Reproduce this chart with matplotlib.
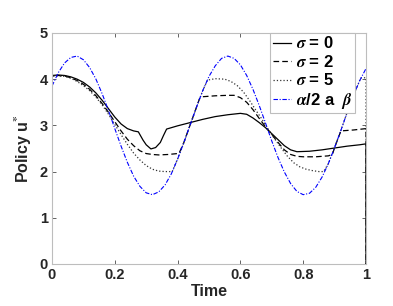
import matplotlib
matplotlib.use("Agg")
import matplotlib.pyplot as plt

# Data
t_blue = [0.00, 0.02, 0.04, 0.06, 0.08, 0.10, 0.12, 0.14, 0.16, 0.18,
          0.20, 0.22, 0.24, 0.26, 0.28, 0.30, 0.32, 0.34, 0.36, 0.38,
          0.40, 0.42, 0.44, 0.46, 0.48, 0.50, 0.52, 0.54, 0.56, 0.58,
          0.60, 0.62, 0.64, 0.66, 0.68, 0.70, 0.72, 0.74, 0.76, 0.78,
          0.80, 0.82, 0.84, 0.86, 0.88, 0.90, 0.92, 0.94, 0.96, 0.98, 1.00]
u_blue = [3.85, 4.14, 4.35, 4.47, 4.50, 4.42, 4.25, 4.00, 3.68, 3.32,
          2.93, 2.55, 2.20, 1.90, 1.68, 1.54, 1.50, 1.56, 1.71, 1.95,
          2.27, 2.63, 3.01, 3.39, 3.75, 4.06, 4.29, 4.45, 4.50, 4.45,
          4.31, 4.08, 3.78, 3.43, 3.05, 2.66, 2.30, 1.99, 1.74, 1.57,
          1.50, 1.53, 1.66, 1.88, 2.17, 2.52, 2.89, 3.28, 3.65, 3.97, 4.23]

t_s0 = [0.00, 0.00, 0.02, 0.04, 0.06, 0.08, 0.10, 0.12, 0.14, 0.16, 0.18,
        0.20, 0.22, 0.24, 0.26, 0.275, 0.29, 0.30, 0.315, 0.33, 0.345,
        0.355, 0.365, 0.40, 0.44, 0.48, 0.52, 0.56, 0.60, 0.62, 0.64,
        0.66, 0.68, 0.70, 0.72, 0.74, 0.76, 0.78, 0.82, 0.86, 0.90,
        0.94, 0.98, 1.00, 1.00]
u_s0 = [0.00, 4.08, 4.09, 4.08, 4.05, 4.00, 3.93, 3.83, 3.70, 3.54, 3.36,
        3.18, 3.03, 2.93, 2.88, 2.86, 2.68, 2.58, 2.49, 2.52, 2.63,
        2.78, 2.92, 2.99, 3.06, 3.13, 3.19, 3.23, 3.26, 3.24, 3.16,
        3.06, 2.95, 2.82, 2.69, 2.56, 2.47, 2.43, 2.44, 2.47, 2.51,
        2.55, 2.58, 2.60, 0.00]

t_s2 = [0.00, 0.00, 0.02, 0.04, 0.06, 0.08, 0.10, 0.12, 0.14, 0.16, 0.18,
        0.20, 0.22, 0.24, 0.26, 0.28, 0.30, 0.32, 0.34, 0.37, 0.40,
        0.405, 0.42, 0.44, 0.46, 0.47, 0.48, 0.52, 0.56, 0.58, 0.60,
        0.62, 0.64, 0.66, 0.68, 0.70, 0.72, 0.74, 0.76, 0.78, 0.80,
        0.84, 0.88, 0.893, 0.90, 0.91, 0.92, 0.96, 1.00, 1.00]
u_s2 = [0.00, 4.07, 4.08, 4.07, 4.03, 3.97, 3.89, 3.78, 3.64, 3.47, 3.28,
        3.08, 2.88, 2.70, 2.56, 2.45, 2.39, 2.37, 2.36, 2.37, 2.39,
        2.40, 2.63, 3.01, 3.39, 3.58, 3.62, 3.64, 3.65, 3.65, 3.60,
        3.50, 3.34, 3.15, 2.97, 2.80, 2.63, 2.47, 2.37, 2.33, 2.32,
        2.32, 2.34, 2.37, 2.52, 2.70, 2.88, 2.90, 2.93, 0.00]

t_s5 = [0.00, 0.00, 0.02, 0.04, 0.06, 0.08, 0.10, 0.12, 0.14, 0.16, 0.18,
        0.20, 0.22, 0.24, 0.26, 0.28, 0.30, 0.32, 0.34, 0.36, 0.383,
        0.40, 0.42, 0.44, 0.46, 0.48, 0.495, 0.52, 0.55, 0.57, 0.59,
        0.61, 0.63, 0.65, 0.67, 0.69, 0.71, 0.73, 0.75, 0.77, 0.79,
        0.81, 0.83, 0.85, 0.865, 0.88, 0.90, 0.92, 0.94, 0.96, 0.98,
        0.985, 1.00, 1.00]
u_s5 = [0.00, 4.06, 4.07, 4.06, 4.02, 3.95, 3.86, 3.75, 3.61, 3.44, 3.24,
        3.02, 2.80, 2.59, 2.40, 2.25, 2.13, 2.05, 2.01, 2.00, 2.00,
        2.27, 2.63, 3.01, 3.39, 3.75, 3.98, 4.01, 4.00, 3.95, 3.86,
        3.72, 3.53, 3.32, 3.12, 2.90, 2.70, 2.51, 2.33, 2.19, 2.10,
        2.05, 2.02, 2.00, 2.00, 2.17, 2.52, 2.89, 3.28, 3.65, 3.97,
        4.03, 4.03, 0.00]

labels = [r"$\sigma$ = 0", r"$\sigma$ = 2", r"$\sigma$ = 5", r"$\alpha$/2 a  $\beta$"]
xticks = [0, 0.2, 0.4, 0.6, 0.8, 1]
xticklabels = ["0", "0.2", "0.4", "0.6", "0.8", "1"]
yticks = [0, 1, 2, 3, 4, 5]

plt.rcParams["font.family"] = ["Liberation Sans", "DejaVu Sans"]
plt.rcParams["font.weight"] = "bold"
plt.rcParams["mathtext.fontset"] = "stix"

fig = plt.figure(figsize=(3.93, 3.06), dpi=100)
ax = fig.add_axes([0.1323, 0.1373, 0.799, 0.755])

ax.plot(t_s0, u_s0, "-", color="black", lw=0.9, label=labels[0])
ax.plot(t_s2, u_s2, color="black", lw=0.9, dashes=(4.5, 2.5), label=labels[1])
ax.plot(t_s5, u_s5, ":", color="#333333", lw=0.9, label=labels[2])
ax.plot(t_blue, u_blue, color="blue", lw=0.8, dashes=(4, 1.5, 1, 1.5), label=labels[3])

ax.set_xlim(0, 1)
ax.set_ylim(0, 5)
ax.set_xticks(xticks)
ax.set_xticklabels(xticklabels)
ax.set_yticks(yticks)
ax.tick_params(direction="in", top=True, right=True, length=3, width=0.5,
               labelsize=10.5, colors="#262626", pad=3)
for sp in ax.spines.values():
    sp.set_color("#bdbdbd")
    sp.set_linewidth(0.8)

ax.set_xlabel("Time", fontsize=11.5, fontweight="bold", color="#262626", labelpad=1)
ax.set_ylabel(r"Policy u$^{\mathbf{*}}$", fontsize=11.5, fontweight="bold",
              color="#262626", labelpad=4)

leg = ax.legend(loc="upper right", bbox_to_anchor=(0.965, 1.0), fontsize=12,
                handlelength=1.1, handletextpad=0.3, labelspacing=0.15,
                borderpad=0.15, borderaxespad=0.0, fancybox=False,
                framealpha=1, edgecolor="#bdbdbd")
leg.get_frame().set_linewidth(0.8)
for txt in leg.get_texts():
    txt.set_fontweight("bold")

fig.savefig("out.png", dpi=100)
